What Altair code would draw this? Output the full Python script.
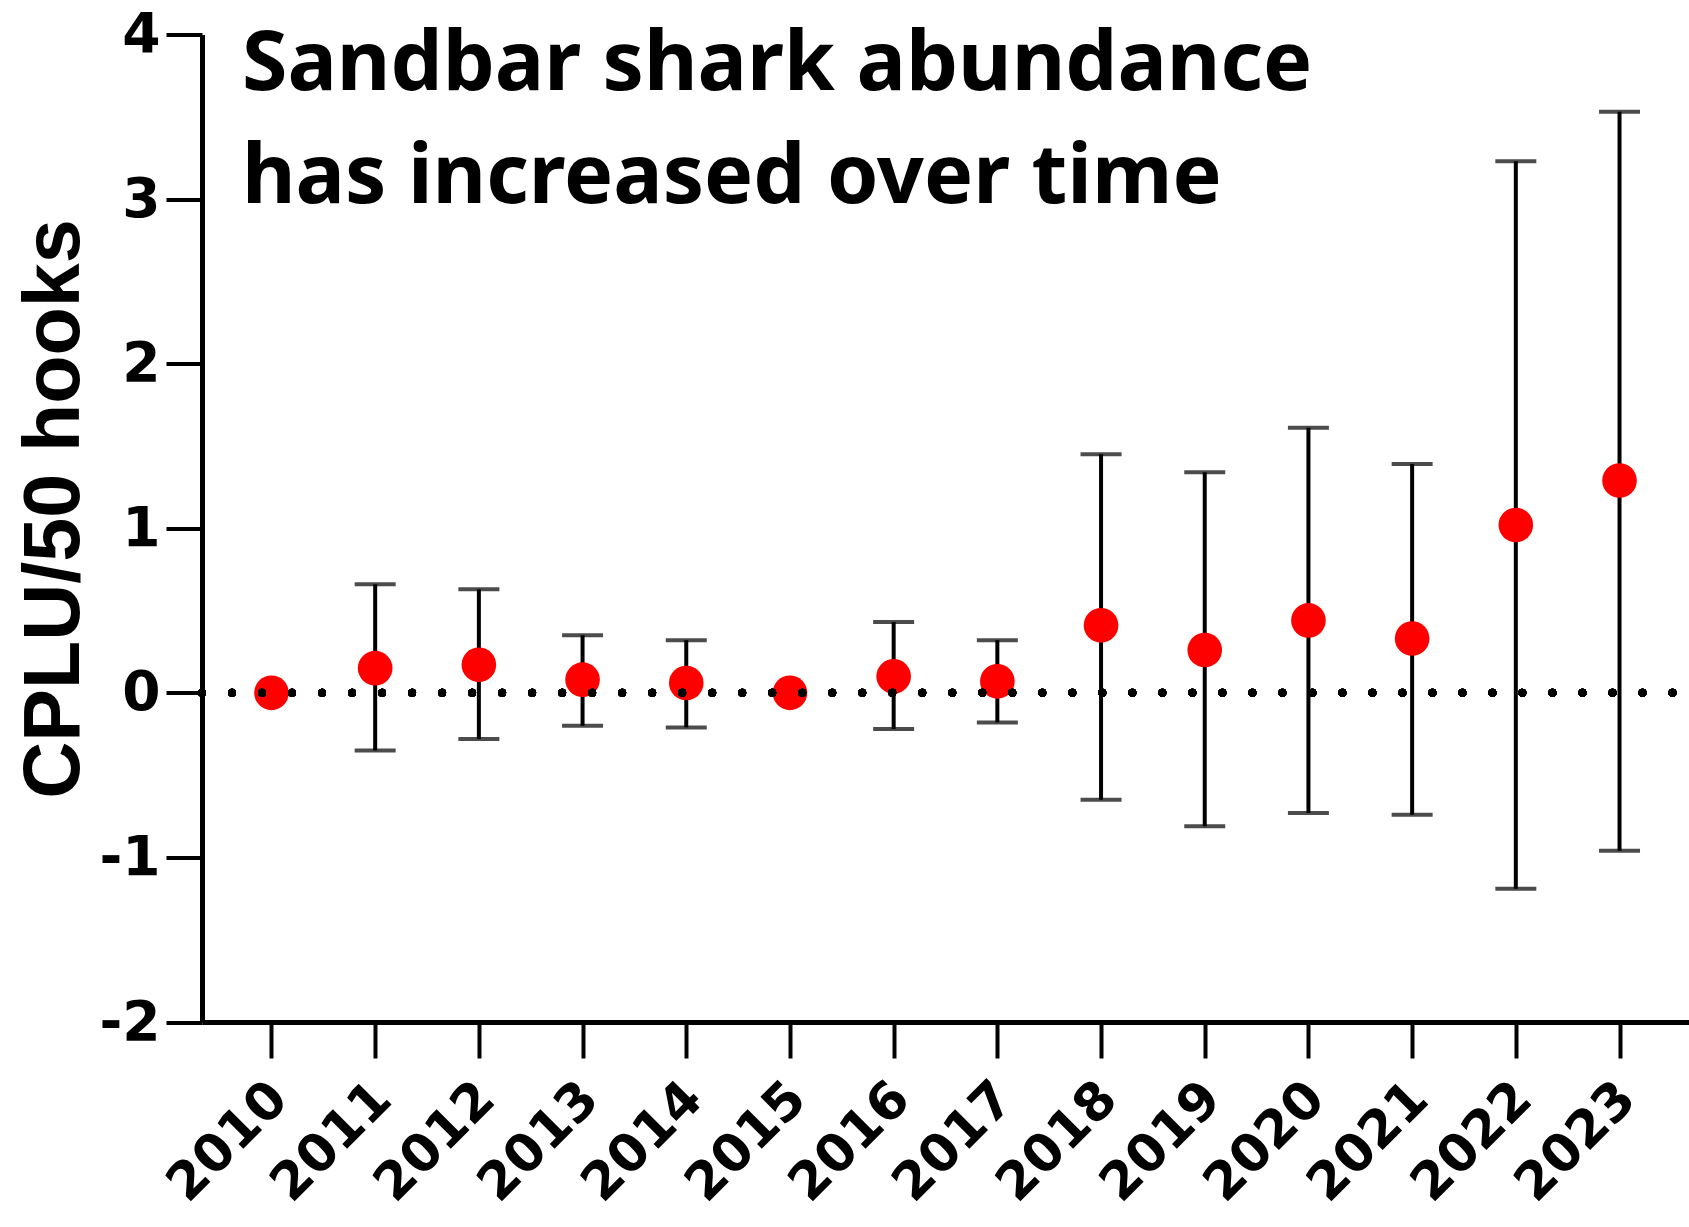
import altair as alt
import pandas as pd

# Sandbar shark catch per unit effort (CPLU per 50 hooks), relative to baseline
years = [2010, 2011, 2012, 2013, 2014, 2015, 2016, 2017, 2018, 2019, 2020, 2021, 2022, 2023]
cplu = [0.0, 0.15, 0.17, 0.08, 0.06, 0.0, 0.10, 0.07, 0.41, 0.26, 0.44, 0.33, 1.02, 1.29]
lower = [None, -0.35, -0.28, -0.20, -0.21, None, -0.22, -0.18, -0.65, -0.81, -0.73, -0.74, -1.19, -0.96]
upper = [None, 0.66, 0.63, 0.35, 0.32, None, 0.43, 0.32, 1.45, 1.34, 1.61, 1.39, 3.23, 3.53]
y_ticks = [-2, -1, 0, 1, 2, 3, 4]
title_lines = "Sandbar shark abundance\nhas increased over time"

df = pd.DataFrame({
    "year": [str(y) for y in years],
    "cplu": cplu,
    "lower": lower,
    "upper": upper,
})

W, H = 1487, 987.5
TICK_FONT = "DejaVu Sans"

x_enc = alt.X(
    "year:O",
    scale=alt.Scale(type="point", padding=0.67),
    axis=alt.Axis(
        title=None,
        labelAngle=315,
        labelAlign="right",
        labelBaseline="middle",
        labelFont=TICK_FONT,
        labelFontWeight="bold",
        labelFontSize=52,
        labelColor="black",
        labelPadding=32,
        labelOffset=7,
        tickSize=36,
        tickWidth=4,
        tickColor="black",
        domainColor="black",
        domainWidth=5,
        grid=False,
        labelOverlap=False,
    ),
)

y_scale = alt.Scale(domain=[-2, 4], nice=False, zero=False)
y_axis = alt.Axis(
    title="CPLU/50 hooks",
    titleFont="Liberation Sans",
    titleFontWeight="bold",
    titleFontSize=79,
    titleColor="black",
    titleAlign="center",
    titleBaseline="alphabetic",
    titleX=-124,
    titleY=474,
    values=y_ticks,
    labelExpr="toString(datum.value)",
    labelFont=TICK_FONT,
    labelFontWeight="bold",
    labelFontSize=55,
    labelColor="black",
    labelPadding=6,
    tickSize=36,
    tickWidth=4,
    tickColor="black",
    domainColor="black",
    domainWidth=5,
    grid=False,
)

base = alt.Chart(df)
bars = df.dropna(subset=["lower", "upper"])

whiskers = alt.Chart(bars).mark_rule(color="black", strokeWidth=4).encode(
    x=x_enc,
    y=alt.Y("lower:Q", scale=y_scale, axis=y_axis),
    y2="upper:Q",
)
caps_hi = alt.Chart(bars).mark_tick(color="black", thickness=4, size=41).encode(
    x=x_enc, y=alt.Y("upper:Q", scale=y_scale)
)
caps_lo = alt.Chart(bars).mark_tick(color="black", thickness=4, size=41).encode(
    x=x_enc, y=alt.Y("lower:Q", scale=y_scale)
)
points = base.mark_circle(color="#ff0000", opacity=1, size=1200).encode(
    x=x_enc, y=alt.Y("cplu:Q", scale=y_scale)
)
zero_line = base.mark_rule(
    color="black", strokeWidth=8, strokeDash=[0.01, 30], strokeCap="round"
).encode(y=alt.datum(0), x=alt.value(0), x2=alt.value(W))

headline = alt.Chart(pd.DataFrame({"t": [title_lines]})).mark_text(
    align="left",
    baseline="alphabetic",
    font="Noto Sans",
    fontWeight="bold",
    fontSize=82.5,
    lineHeight=113,
    lineBreak="\n",
    color="black",
).encode(text="t:N", x=alt.value(40), y=alt.value(55))

chart = (
    alt.layer(whiskers, caps_hi, caps_lo, points, zero_line, headline)
    .properties(
        width=W,
        height=H,
        autosize=alt.AutoSizeParams(type="none"),
        padding={"left": 202, "top": 34.5, "right": 0, "bottom": 205},
        background="white",
    )
    .configure_view(stroke=None)
)

chart.save("out.html", embed_options={"renderer": "svg", "actions": False})
